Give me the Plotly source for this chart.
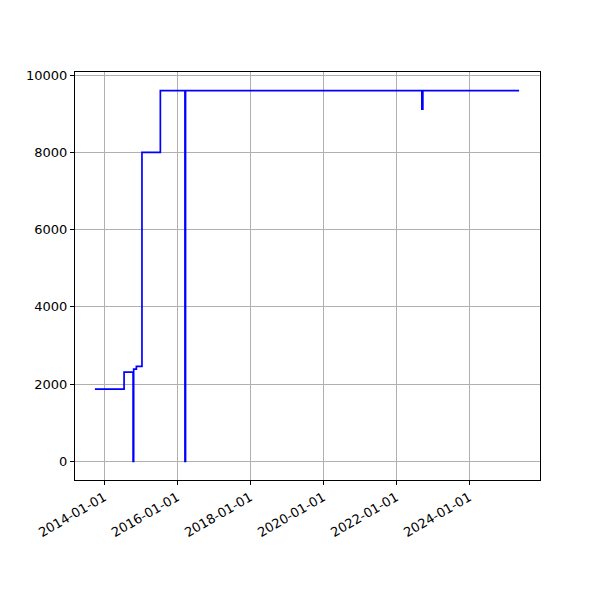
import plotly.graph_objects as go

dates = ["2013-10-01", "2014-07-20", "2014-10-18", "2014-10-24", "2014-11-20",
         "2015-01-15", "2015-07-18", "2016-03-20", "2016-03-26", "2022-09-15",
         "2022-09-25", "2025-05-15"]
values = [1870, 2310, 0, 2390, 2460, 8000, 9600, 0, 9600, 9120, 9600, 9600]

tick_dates = ["2014-01-01", "2016-01-01", "2018-01-01", "2020-01-01", "2022-01-01", "2024-01-01"]
y_ticks = [0, 2000, 4000, 6000, 8000, 10000]

fig = go.Figure()
fig.add_trace(go.Scatter(x=dates, y=values, mode="lines", line_shape="hv",
                         line=dict(color="#0000ff", width=1.7), showlegend=False))

axis_common = dict(showline=True, linecolor="black", linewidth=1, mirror=True,
                   showgrid=True, gridcolor="#b0b0b0", gridwidth=1,
                   ticks="outside", ticklen=4, tickcolor="black", tickwidth=1,
                   zeroline=False, automargin=False,
                   tickfont=dict(family="DejaVu Sans", size=13, color="black"))

fig.update_layout(
    width=592, height=592,
    margin=dict(l=67, r=60, t=64, b=120),
    paper_bgcolor="white", plot_bgcolor="white",
    xaxis=dict(type="date", range=["2013-03-16", "2025-12-10"],
               tickvals=tick_dates, ticktext=tick_dates, tickangle=-30, **axis_common),
    yaxis=dict(range=[-480, 10080], tickvals=y_ticks,
               ticktext=[str(v) for v in y_ticks], **axis_common),
)

fig.write_html("out.html")
